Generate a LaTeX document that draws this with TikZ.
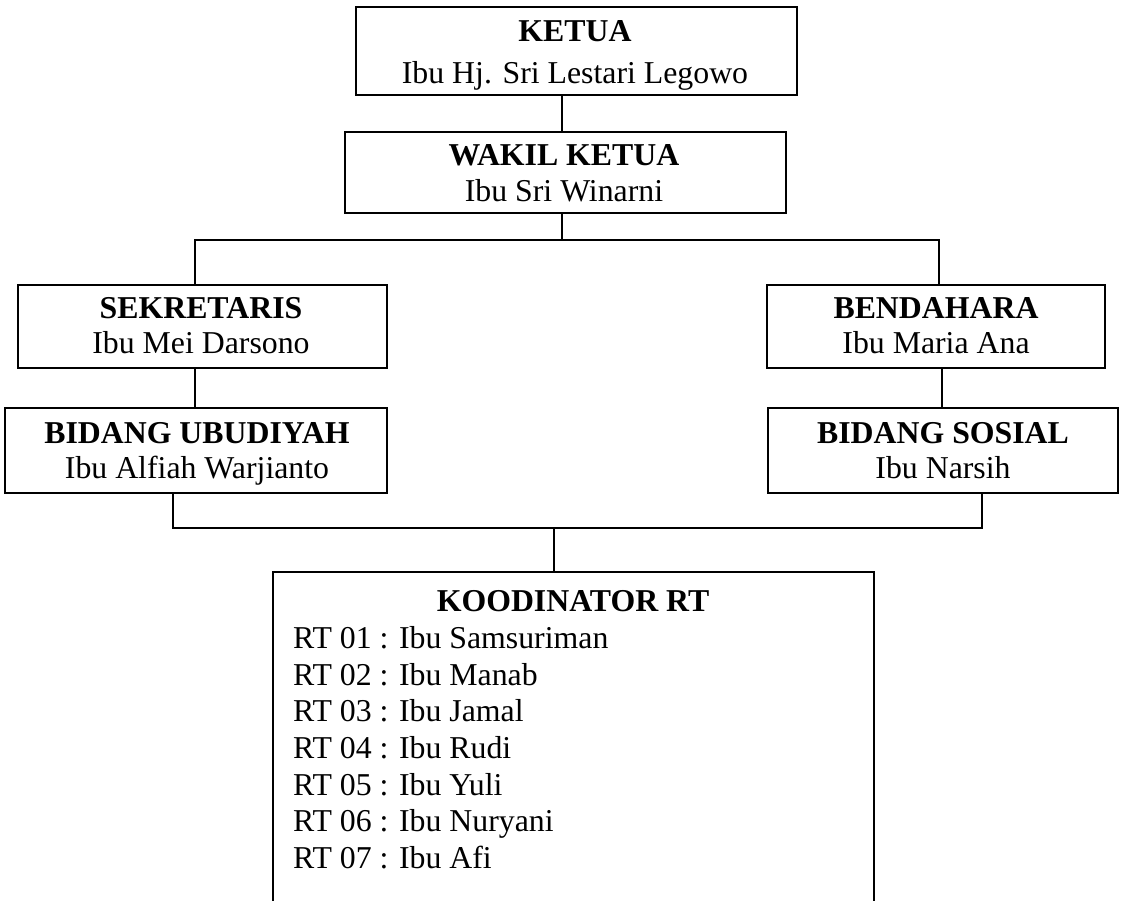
\documentclass[tikz,border=0pt]{standalone}
\usepackage{fontspec}
\setmainfont{Liberation Serif}
\begin{document}
\begin{tikzpicture}[x=1pt,y=-1pt,
  box/.style={draw,line width=1.7pt,rectangle,inner sep=0pt},
  txt/.style={anchor=base,inner sep=0pt,font=\fontsize{31.8}{36.6}\selectfont},
  ltxt/.style={anchor=base west,inner sep=0pt,font=\fontsize{31.8}{36.6}\selectfont},
  conn/.style={line width=1.7pt,line cap=rect}]
\useasboundingbox (0,0) rectangle (1123,900);
% boxes
\node[box,minimum width=441pt,minimum height=88pt] (ketua) at (576.5,51) {};
\node[box,minimum width=441pt,minimum height=81pt] (wakil) at (565.5,172.5) {};
\node[box,minimum width=369pt,minimum height=83pt] (sek) at (202.5,326.5) {};
\node[box,minimum width=382pt,minimum height=85pt] (ubud) at (196,450.5) {};
\node[box,minimum width=338pt,minimum height=83pt] (bend) at (936,326.5) {};
\node[box,minimum width=350pt,minimum height=85pt] (sosial) at (943,450.5) {};
\node[inner sep=0pt,minimum width=601pt,minimum height=333pt] (koord) at (573.5,738.5) {};
\draw[line width=1.7pt] (koord.south west) |- (koord.north east) -- (koord.south east);
% texts
\node[txt] (t1a) at (575,41.7) {\textbf{KETUA}};
\node[txt] (t1b) at (575,83) {Ibu Hj. Sri Lestari Legowo};
\node[txt] (t2a) at (564,165) {\textbf{WAKIL KETUA}};
\node[txt] (t2b) at (564,201.7) {Ibu Sri Winarni};
\node[txt] (t3a) at (201,318) {\textbf{SEKRETARIS}};
\node[txt] (t3b) at (201,353) {Ibu Mei Darsono};
\node[txt] (t4a) at (197,443) {\textbf{BIDANG UBUDIYAH}};
\node[txt] (t4b) at (197,478) {Ibu Alfiah Warjianto};
\node[txt] (t5a) at (936,318) {\textbf{BENDAHARA}};
\node[txt] (t5b) at (936,353) {Ibu Maria Ana};
\node[txt] (t6a) at (943,443) {\textbf{BIDANG SOSIAL}};
\node[txt] (t6b) at (943,478) {Ibu Narsih};
\node[txt] (t7) at (573,611.7) {\textbf{KOODINATOR RT}};
\node[ltxt] (rt1) at (293,648.5) {RT 01 : Ibu Samsuriman};
\node[ltxt] (rt2) at (293,685.2) {RT 02 : Ibu Manab};
\node[ltxt] (rt3) at (293,721.8) {RT 03 : Ibu Jamal};
\node[ltxt] (rt4) at (293,758.4) {RT 04 : Ibu Rudi};
\node[ltxt] (rt5) at (293,795.0) {RT 05 : Ibu Yuli};
\node[ltxt] (rt6) at (293,831.6) {RT 06 : Ibu Nuryani};
\node[ltxt] (rt7) at (293,868.2) {RT 07 : Ibu Afi};
% connector coordinates
\coordinate (c0) at (562,0);
\coordinate (b1l) at (195,240);
\coordinate (b1r) at (939,240);
\coordinate (c2) at (942,0);
\coordinate (b2l) at (173,528);
\coordinate (b2r) at (982,528);
\coordinate (c3) at (554,0);
% connectors
\draw[conn] (ketua.south -| c0) -- (wakil.north -| c0);
\draw[conn] (wakil.south -| c0) -- (b1l -| c0);
\draw[conn] (b1l) -- (b1r);
\draw[conn] (b1l) -- (sek.north -| b1l);
\draw[conn] (b1r) -- (bend.north -| b1r);
\draw[conn] (sek.south -| b1l) -- (ubud.north -| b1l);
\draw[conn] (bend.south -| c2) -- (sosial.north -| c2);
\draw[conn] (ubud.south -| b2l) -- (b2l) -- (b2r) -- (sosial.south -| b2r);
\draw[conn] (b2l -| c3) -- (koord.north -| c3);
\end{tikzpicture}
\end{document}
